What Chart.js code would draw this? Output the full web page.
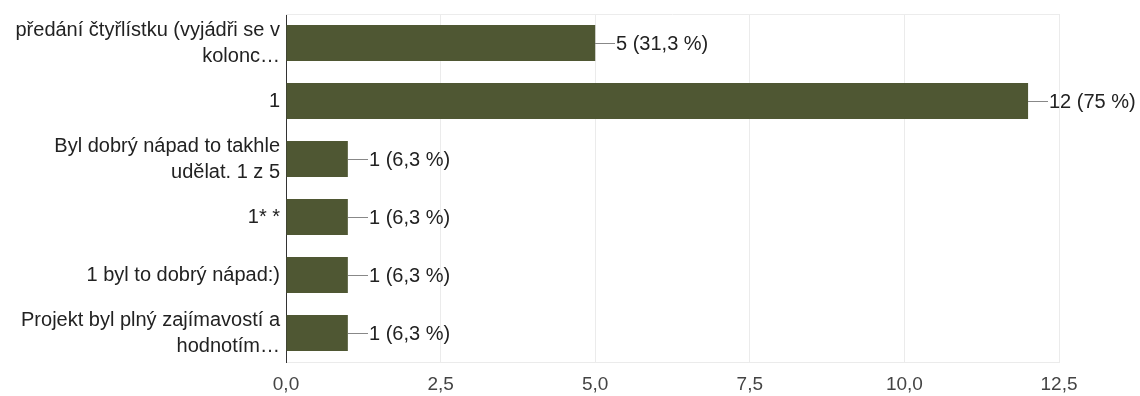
<!DOCTYPE html>
<html lang="cs">
<head>
<meta charset="utf-8">
<title>Odpovědi</title>
<script src="https://cdn.jsdelivr.net/npm/chart.js@4/dist/chart.umd.min.js"></script>
<style>
    html, body { margin: 0; padding: 0; background: #fff; }
    #wrap { position: relative; width: 1140px; height: 396px; }
</style>
</head>
<body>
<div id="wrap"><canvas id="barChart"></canvas></div>
<script>
// answers (wrapped lines as Google Forms shows them)
const categories = [
    ['předání čtyřlístku (vyjádři se v', 'kolonc…'],
    '1',
    ['Byl dobrý nápad to takhle', 'udělat. 1 z 5'],
    '1* *',
    '1 byl to dobrý nápad:)',
    ['Projekt byl plný zajímavostí a', 'hodnotím…']
];
const counts = [5, 12, 1, 1, 1, 1];
const respondents = 16;
const xTicks = [0, 2.5, 5, 7.5, 10, 12.5];

const BAR_COLOR = '#4f5733';
const FONT = '"Liberation Sans", Arial, sans-serif';

function czNumber(n, digits) {
    return (digits === undefined ? String(n) : n.toFixed(digits)).replace('.', ',');
}

function countLabel(v) {
    const pct = Math.round(v / respondents * 1000) / 10;
    return v + ' (' + czNumber(pct) + ' %)';
}

// leader line + "n (p %)" to the right of every bar
const valueLabels = {
    id: 'valueLabels',
    afterDatasetsDraw(chart) {
        const ctx = chart.ctx;
        const meta = chart.getDatasetMeta(0);
        ctx.save();
        ctx.font = '20px ' + FONT;
        ctx.textBaseline = 'middle';
        ctx.textAlign = 'left';
        meta.data.forEach((bar, i) => {
            const x = Math.round(bar.x);
            const y = Math.round(bar.y) + 0.5;
            ctx.strokeStyle = '#888';
            ctx.lineWidth = 1;
            ctx.beginPath();
            ctx.moveTo(x, y);
            ctx.lineTo(x + 20, y);
            ctx.stroke();
            ctx.fillStyle = '#222';
            ctx.fillText(countLabel(counts[i]), x + 21, y + 1);
        });
        ctx.restore();
    }
};

// faint top edge of the plot area
const topEdge = {
    id: 'topEdge',
    beforeDatasetsDraw(chart) {
        const a = chart.chartArea;
        const ctx = chart.ctx;
        ctx.save();
        ctx.strokeStyle = '#ececec';
        ctx.lineWidth = 1;
        ctx.beginPath();
        ctx.moveTo(a.left, a.top + 0.5);
        ctx.lineTo(a.right, a.top + 0.5);
        ctx.stroke();
        ctx.restore();
    }
};

const ctx = document.getElementById('barChart').getContext('2d');
new Chart(ctx, {
    type: 'bar',
    data: {
        labels: categories,
        datasets: [{
            data: counts,
            backgroundColor: BAR_COLOR,
            borderWidth: 0,
            barPercentage: 0.62,
            categoryPercentage: 1
        }]
    },
    options: {
        indexAxis: 'y',
        responsive: true,
        maintainAspectRatio: false,
        animation: false,
        layout: { padding: { top: 14, right: 81, bottom: 0, left: 0 } },
        plugins: {
            legend: { display: false },
            tooltip: { enabled: false }
        },
        scales: {
            x: {
                min: xTicks[0],
                max: xTicks[xTicks.length - 1],
                afterBuildTicks(axis) {
                    axis.ticks = xTicks.map(v => ({ value: v }));
                },
                grid: {
                    color: c => c.tick && c.tick.value === 0 ? 'rgba(0,0,0,0)' : '#ebebeb',
                    drawTicks: false
                },
                border: { color: '#ebebeb' },
                ticks: {
                    padding: 11,
                    color: '#444',
                    font: { family: FONT, size: 19 },
                    callback: v => czNumber(v, 1)
                },
                afterFit(axis) {
                    axis.height = 34;
                    axis.paddingLeft = 0;
                    axis.paddingRight = 0;
                }
            },
            y: {
                grid: { display: false, drawTicks: false },
                border: { color: '#333', width: 1 },
                ticks: {
                    autoSkip: false,
                    padding: 6,
                    color: '#222',
                    font: { family: FONT, size: 20, lineHeight: 1.3 }
                },
                afterFit(axis) {
                    axis.width = 286;
                    axis.paddingTop = 0;
                    axis.paddingBottom = 0;
                }
            }
        }
    },
    plugins: [topEdge, valueLabels]
});
</script>
</body>
</html>
